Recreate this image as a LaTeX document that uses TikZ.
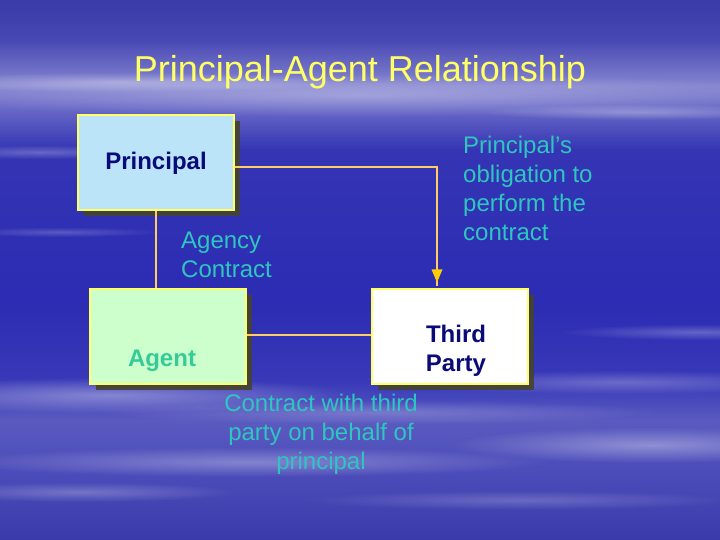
\documentclass[tikz,border=0pt]{standalone}
\usepackage{fontspec}
\setmainfont{Liberation Sans}
\usetikzlibrary{arrows.meta,shadows,calc,fadings}
\definecolor{bgA}{HTML}{3A3AA8}
\definecolor{bgB}{HTML}{4848B4}
\definecolor{bgC}{HTML}{8484D0}
\definecolor{bgD}{HTML}{6666C6}
\definecolor{bgE}{HTML}{3434B4}
\definecolor{bgF}{HTML}{2C2CB4}
\definecolor{bgG}{HTML}{3838B8}
\definecolor{bgH}{HTML}{5A5AC0}
\definecolor{bgI}{HTML}{4C4CBA}
\definecolor{bgJ}{HTML}{3A3AAA}
\definecolor{titleyellow}{HTML}{FFFF66}
\definecolor{tealtext}{HTML}{2EC6BE}
\definecolor{agenttext}{HTML}{33CC99}
\definecolor{navytext}{HTML}{0A0A78}
\definecolor{princfill}{HTML}{BBE4F8}
\definecolor{agentfill}{HTML}{CCFFCC}
\definecolor{boxborder}{HTML}{FFFF66}
\definecolor{shadowcol}{HTML}{45432F}
\definecolor{linecol}{HTML}{FFCC66}
\definecolor{arrowcol}{HTML}{FFCC00}
\pgfdeclareverticalshading{bgsh}{100bp}{%
  color(0bp)=(bgJ); color(25bp)=(bgJ); color(31.5bp)=(bgI); color(36.1bp)=(bgH);
  color(39.8bp)=(bgG); color(47.2bp)=(bgF); color(61.1bp)=(bgE); color(64.8bp)=(bgD);
  color(67.1bp)=(bgC); color(71.3bp)=(bgB); color(75bp)=(bgA); color(100bp)=(bgA)}
\tikzfading[name=softedge, inner color=transparent!0, outer color=transparent!100]
\newcommand\cloudstreak[5]{%
  \fill[white,opacity=#5,path fading=softedge] (#1,#2) ellipse [x radius=#3, y radius=#4];}
\tikzset{
  box/.style={draw=boxborder,line width=1.2pt,minimum width=156pt,minimum height=95pt,
    inner sep=0pt,drop shadow={shadow xshift=6pt,shadow yshift=-6pt,fill=shadowcol,opacity=0.9}},
  boxlabel/.style={font=\fontsize{24}{29}\selectfont\bfseries,align=center,inner sep=0pt},
  note/.style={font=\fontsize{24}{29}\selectfont,text=tealtext,inner sep=0pt},
  conn/.style={draw=linecol,line width=1.6pt},
}
\begin{document}
\begin{tikzpicture}[x=1pt,y=-1pt]
\useasboundingbox (0,0) rectangle (720,540);
\shade[shading=bgsh] (0,0) rectangle (720,540);
% cloud streaks
\begin{scope}
\clip (0,0) rectangle (720,540);
\cloudstreak{360}{95}{460}{22}{0.30}
\cloudstreak{120}{82}{220}{10}{0.30}
\cloudstreak{640}{112}{160}{8}{0.30}
\cloudstreak{40}{152}{120}{7}{0.25}
\cloudstreak{60}{232}{100}{5}{0.20}
\cloudstreak{700}{332}{140}{8}{0.25}
\cloudstreak{620}{382}{220}{12}{0.25}
\cloudstreak{110}{395}{240}{18}{0.35}
\cloudstreak{380}{412}{280}{12}{0.22}
\cloudstreak{650}{445}{200}{18}{0.35}
\cloudstreak{250}{462}{300}{15}{0.30}
\cloudstreak{80}{492}{160}{10}{0.25}
\cloudstreak{520}{500}{220}{10}{0.20}
\end{scope}
% title
\node[font=\fontsize{36}{40}\selectfont,text=titleyellow,inner sep=0pt] (title) at (360,72) {Principal-Agent Relationship};
% boxes
\node[box,fill=princfill] (P) at (156,162.5) {};
\node[box,fill=agentfill] (A) at (168,336.5) {};
\node[box,fill=white] (T) at (450,336.5) {};
\node[boxlabel,text=navytext] (Plab) at (156,163) {Principal};
\node[boxlabel,text=agenttext] (Alab) at (162,361) {Agent};
\node[boxlabel,text=navytext] (Tlab) at (456,351) {Third\\Party};
% connectors
\draw[conn] ([yshift=-4.5pt]P.east) -| ([xshift=-13pt,yshift=2pt]T.north);
\fill[arrowcol] ([xshift=-13pt,yshift=6pt]T.north) -- ++(-5.5,-13) -- ++(11,0) -- cycle;
\draw[conn] (P.south) -- (P.south |- A.north);
\draw[conn] ([yshift=1.5pt]A.east) -- ([yshift=1.5pt]T.west);
% notes
\node[note,anchor=west,align=left] (agency) at (181,255) {Agency\\Contract};
\node[note,anchor=west,align=left] (oblig) at (463,188) {Principal's\\obligation to\\perform the\\contract};
\node[note,align=center] (third) at (321,434) {Contract with third\\party on behalf of\\principal};
\end{tikzpicture}
\end{document}
